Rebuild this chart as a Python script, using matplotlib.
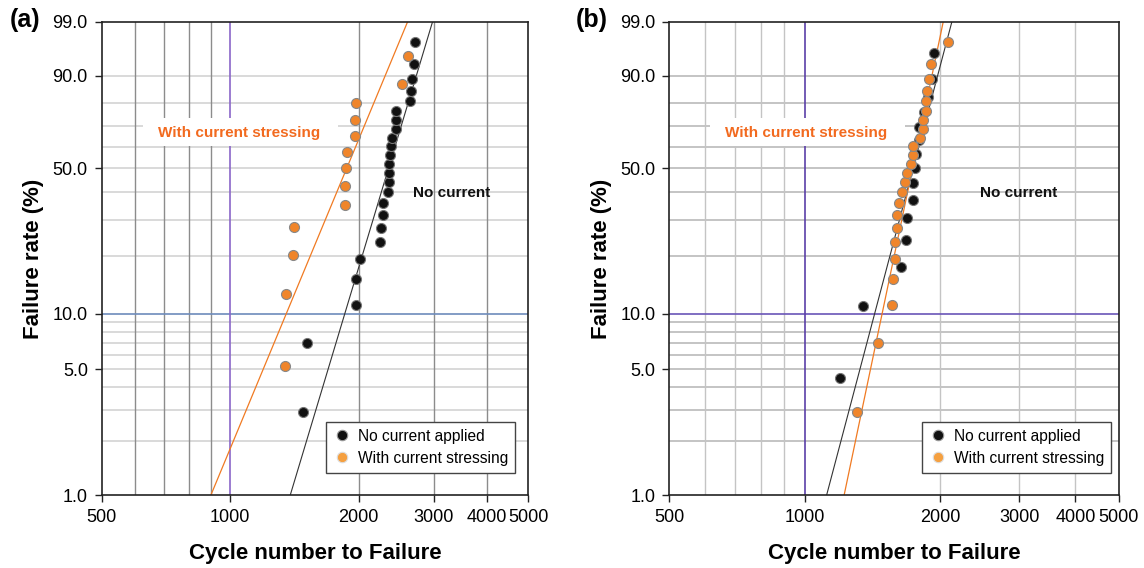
import numpy as np
import matplotlib

matplotlib.use('Agg')
from matplotlib import pyplot as plt
from matplotlib.patches import Rectangle
from matplotlib.lines import Line2D

plt.rcParams['font.family'] = ['Liberation Sans', 'DejaVu Sans']

# panel (a)
a_none_cycles = [1485, 1511, 1968, 1972, 2012, 2240, 2258, 2280, 2280, 2347, 2360, 2360,
                 2360, 2365, 2383, 2396, 2443, 2443, 2448, 2640, 2661, 2671, 2696, 2707]
a_none_rate = [2.9, 7.0, 11.1, 15.2, 19.3, 23.4, 27.5, 31.6, 35.7, 39.8, 43.9, 48.0,
               52.0, 56.1, 60.2, 64.3, 68.4, 72.5, 76.6, 80.7, 84.8, 88.9, 93.0, 97.1]
a_curr_cycles = [1348, 1354, 1407, 1415, 1861, 1861, 1869, 1876, 1957, 1965, 1972, 2535, 2605]
a_curr_rate = [5.2, 12.7, 20.1, 27.6, 35.1, 42.5, 50.0, 57.5, 64.9, 72.4, 79.9, 87.3, 94.8]

# panel (b)
b_none_cycles = [1196, 1346, 1640, 1683, 1686, 1739, 1739, 1756, 1770, 1798, 1793, 1840,
                 1883, 1920, 1940]
b_none_rate = [4.5, 11.0, 17.5, 24.0, 30.5, 37.0, 43.5, 50.0, 56.5, 63.0, 69.5, 76.0,
               82.5, 89.0, 95.5]
b_curr_cycles = [1309, 1456, 1564, 1570, 1591, 1588, 1602, 1602, 1619, 1646, 1674, 1686,
                 1721, 1739, 1744, 1805, 1830, 1830, 1864, 1864, 1874, 1887, 1907, 2086]
b_curr_rate = [2.9, 7.0, 11.1, 15.2, 19.3, 23.4, 27.5, 31.6, 35.7, 39.8, 43.9, 48.0,
               52.0, 56.1, 60.2, 64.3, 68.4, 72.5, 76.6, 80.7, 84.8, 88.9, 93.0, 97.1]

# fitted Weibull lines, cycles at 1 % and 99 %
fit_rate = [1.0, 99.0]
a_none_fit = [1383, 2981]
a_curr_fit = [901, 2605]
b_none_fit = [1119, 2125]
b_curr_fit = [1224, 2033]

x_ticks = [500, 1000, 2000, 3000, 4000, 5000]
x_grid = [600, 700, 800, 900, 2000, 3000, 4000]
y_ticks = [1, 5, 10, 50, 90, 99]
y_grid = [2, 3, 4, 5, 6, 7, 8, 9, 20, 30, 40, 50, 60, 70, 80, 90]

ORANGE = '#f07a22'
BLACK = '#111111'


def weib(p):
    p = np.clip(np.asarray(p, dtype=float), 1e-9, 100 - 1e-9)
    return np.log(-np.log(1 - p / 100.0))


def weib_inv(w):
    return 100.0 * (1 - np.exp(-np.exp(w)))


def draw_panel(ax, none_c, none_r, curr_c, curr_r, none_fit, curr_fit, styles):
    ax.set_xscale('log')
    ax.set_yscale('function', functions=(weib, weib_inv))
    ax.set_xlim(500, 5000)
    ax.set_ylim(1, 99)

    for v in y_grid:
        ax.axhline(v, color=styles['hgrid'], lw=1.1, zorder=0)
    for v in x_grid:
        ax.axvline(v, color=styles['vgrid'], lw=1.0, zorder=0)
    ax.axhline(10, color=styles['h10'], lw=1.2, zorder=0.5)
    ax.axvline(1000, color=styles['v1000'], lw=1.2, zorder=0.5)

    # white box behind the label
    ax.add_patch(Rectangle((styles['box_x'], 0.738), styles['box_w'], 0.059,
                           transform=ax.transAxes, facecolor='white',
                           edgecolor='none', zorder=1))

    ax.plot(none_fit, fit_rate, color='#333333', lw=0.8, zorder=2)
    ax.plot(curr_fit, fit_rate, color=ORANGE, lw=0.9, zorder=2)
    ax.plot(none_c, none_r, 'o', ms=7.2, mfc=BLACK, mec='#777777', mew=0.8, zorder=3)
    ax.plot(curr_c, curr_r, 'o', ms=7.2, mfc='#f0852a', mec='#888888', mew=0.8, zorder=4)

    ax.set_xticks(x_ticks)
    ax.set_xticklabels([str(t) for t in x_ticks])
    ax.xaxis.set_minor_locator(matplotlib.ticker.NullLocator())
    ax.set_yticks(y_ticks)
    ax.set_yticklabels(['%.1f' % t for t in y_ticks])
    ax.yaxis.set_minor_locator(matplotlib.ticker.NullLocator())
    ax.tick_params(direction='out', length=5, width=1.0, labelsize=13, pad=5,
                   color='#222222')
    for s in ax.spines.values():
        s.set_color('#222222')
        s.set_linewidth(1.2)
        s.set_zorder(5)

    ax.set_xlabel('Cycle number to Failure', fontsize=16, fontweight='bold', labelpad=12)
    ax.set_ylabel('Failure rate (%)', fontsize=16, fontweight='bold', labelpad=6)

    ax.text(styles['lbl_x'], 0.766, 'With current stressing', transform=ax.transAxes,
            ha='center', va='center', fontsize=11, fontweight='bold', color='#f26a1f',
            zorder=6)
    ax.text(styles['nc_x'], 0.639, 'No current', transform=ax.transAxes,
            ha='center', va='center', fontsize=11, fontweight='bold', color=BLACK,
            zorder=6)

    handles = [
        Line2D([], [], ls='none', marker='o', ms=7.5, mfc=BLACK, mec='#999999', mew=0.8),
        Line2D([], [], ls='none', marker='o', ms=7.5, mfc='#f5a040', mec='#dddddd', mew=0.8),
    ]
    leg = ax.legend(handles, ['No current applied', 'With current stressing'],
                    loc='lower right', bbox_to_anchor=(styles['leg_x'], 0.048),
                    borderaxespad=0, fontsize=11.2, fancybox=False, framealpha=1,
                    edgecolor='#444444', handletextpad=0.4, handlelength=1.2,
                    borderpad=0.45, labelspacing=0.45)
    leg.get_frame().set_linewidth(1.0)
    leg.set_zorder(7)


fig = plt.figure(figsize=(11.44, 5.68), dpi=100)
ax_a = fig.add_axes([0.0889, 0.128, 0.3729, 0.8333])
ax_b = fig.add_axes([0.585, 0.128, 0.3931, 0.8333])

draw_panel(ax_a, a_none_cycles, a_none_rate, a_curr_cycles, a_curr_rate,
           a_none_fit, a_curr_fit,
           dict(hgrid='#cfcfcf', vgrid='#8c8c8c', h10='#6d8bbb', v1000='#8a66c8',
                box_x=0.097, box_w=0.457, lbl_x=0.323, nc_x=0.821, leg_x=0.969))
draw_panel(ax_b, b_none_cycles, b_none_rate, b_curr_cycles, b_curr_rate,
           b_none_fit, b_curr_fit,
           dict(hgrid='#b4b4b4', vgrid='#c4c4c4', h10='#6a55b8', v1000='#5b3fa8',
                box_x=0.090, box_w=0.435, lbl_x=0.304, nc_x=0.778, leg_x=0.982))

fig.text(25 / 1144, 1 - 20 / 568, '(a)', fontsize=18, fontweight='bold',
         ha='center', va='center')
fig.text(592 / 1144, 1 - 20 / 568, '(b)', fontsize=18, fontweight='bold',
         ha='center', va='center')

fig.savefig('out.png', dpi=100)
